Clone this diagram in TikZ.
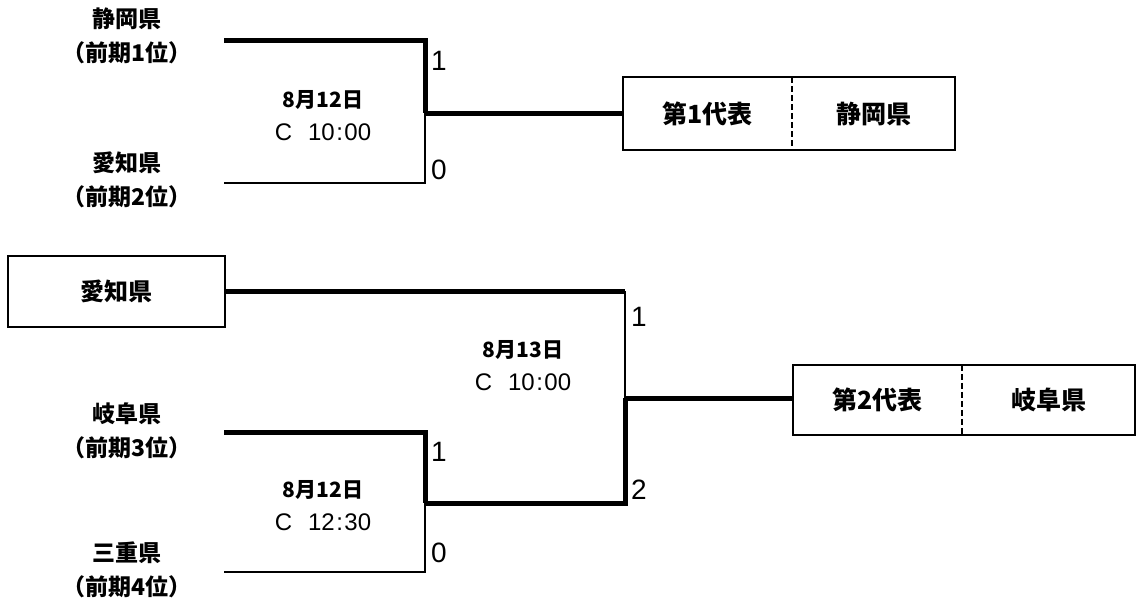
\documentclass[tikz,border=0pt]{standalone}
\usepackage{fontspec}
\setmainfont{Noto Sans CJK JP}
\newfontfamily\numfont{Liberation Sans}
\newcommand{\tm}[2]{{\numfont\fontsize{24}{26}\selectfont\mdseries C\hspace{16pt}#1\hspace{1.5pt}:\hspace{1.5pt}#2}}
\begin{document}
\begin{tikzpicture}[x=1pt,y=-1pt,
  thickl/.style={line width=5pt},
  thinl/.style={line width=1.8pt},
  team/.style={font=\fontsize{23}{34}\selectfont\bfseries, align=center},
  score/.style={font=\numfont\fontsize{28}{28}\selectfont, anchor=west, inner sep=0pt},
  date/.style={font=\fontsize{21}{33}\selectfont\bfseries, align=center},
  cell/.style={font=\fontsize{25}{28}\selectfont\bfseries, inner sep=0pt, minimum height=72pt}]
\useasboundingbox[fill=white] (0,0) rectangle (1138,600);

% team labels
\node[team] (shizuoka) at (127,36) {静岡県\\（前期1位）};
\node[team] (aichi1) at (127,180) {愛知県\\（前期2位）};
\node[team] (gifu) at (127,431) {岐阜県\\（前期3位）};
\node[team] (mie) at (127,570) {三重県\\（前期4位）};

% Aichi box
\node[cell, font=\fontsize{24}{28}\selectfont\bfseries, draw, line width=1.8pt, minimum width=217pt, minimum height=71pt] (aichi) at (116.5,291.5) {愛知県};

% result boxes
\node[cell, minimum width=169pt] (r1a) at (707.5,113.5) {第1代表};
\node[cell, minimum width=163pt] (r1b) at (873.5,113.5) {静岡県};
\draw[line width=1.8pt] (r1a.north west) rectangle (r1b.south east);
\draw[line width=1.5pt, dashed, dash pattern=on 6pt off 3pt] (r1a.north east) -- (r1a.south east);

\node[cell, minimum width=169pt, minimum height=70pt] (r2a) at (877.5,400) {第2代表};
\node[cell, minimum width=173pt, minimum height=70pt] (r2b) at (1048.5,400) {岐阜県};
\draw[line width=1.8pt] (r2a.north west) rectangle (r2b.south east);
\draw[line width=1.5pt, dashed, dash pattern=on 6pt off 3pt] (r2a.north east) -- (r2a.south east);

% bracket coordinates
\coordinate (s1) at (224,40);
\coordinate (a1) at (224,183);
\coordinate (m1) at (425,113);
\coordinate (g1) at (224,432);
\coordinate (e1) at (224,572);
\coordinate (m2) at (425,503);
\coordinate (m3) at (625,398);
\coordinate (t3) at (625,291);

% match 1
\draw[thickl, line join=miter] (s1) -| (m1);
\draw[thinl] (a1) -| (m1);
\draw[thickl] (m1) -- (m1 -| r1a.west);

% match 2
\draw[thickl, line join=miter] (g1) -| (m2);
\draw[thinl] (e1) -| (m2);
\draw[thickl, line join=miter] (m2) -| (m3);

% final
\draw[thickl] (aichi.east |- t3) -- (t3);
\draw[thinl] (t3) -- (m3);
\draw[thickl] (m3) -- (m3 -| r2a.west);

% scores
\node[score] (sc1) at (431,61) {1};
\node[score] (sc2) at (431,170) {0};
\node[score] (sc3) at (631,317) {1};
\node[score] (sc4) at (631,490) {2};
\node[score] (sc5) at (431,452) {1};
\node[score] (sc6) at (431,553) {0};

% dates
\node[date] (d1) at (323,116) {8月12日\\\tm{10}{00}};
\node[date] (d2) at (523,366) {8月13日\\\tm{10}{00}};
\node[date] (d3) at (323,506) {8月12日\\\tm{12}{30}};
\end{tikzpicture}
\end{document}
